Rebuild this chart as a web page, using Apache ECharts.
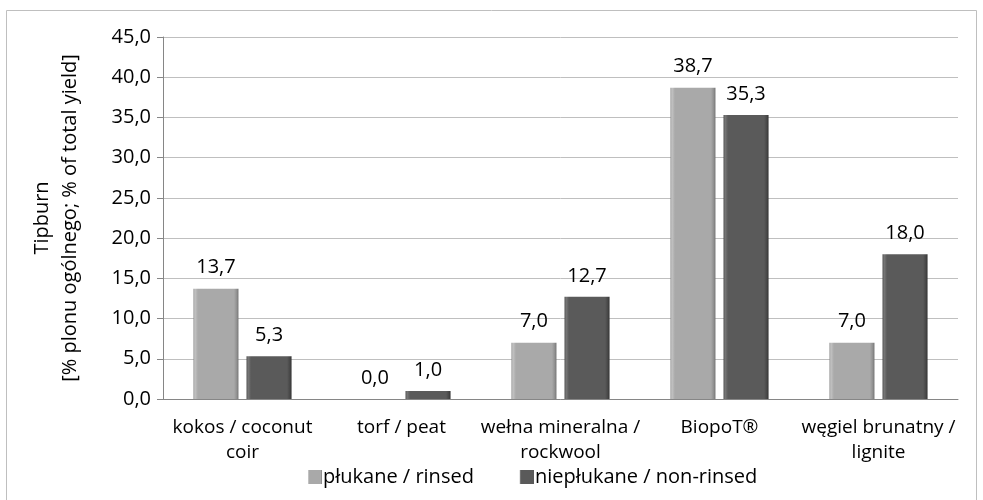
<!DOCTYPE html>
<html>
<head>
<meta charset="utf-8">
<script src="https://cdn.jsdelivr.net/npm/echarts@6/dist/echarts.min.js"></script>
<style>
html,body{margin:0;padding:0;background:#fff;}
#c{width:983px;height:500px;}
</style>
</head>
<body>
<div id="c"></div>
<script>
var categories = ['kokos / coconut\ncoir', 'torf / peat', 'wełna mineralna /\nrockwool', 'BiopoT®', 'węgiel brunatny /\nlignite'];
var rinsed = [13.7, 0.0, 7.0, 38.7, 7.0];
var nonRinsed = [5.3, 1.0, 12.7, 35.3, 18.0];
var seriesNames = ['płukane / rinsed', 'niepłukane / non-rinsed'];
var yTicks = {min: 0, max: 45, interval: 5};

var FONT = 'Open Sans';
var FS = 20;
function fmt(v){ return Number(v).toFixed(1).replace('.', ','); }
function grad(c){
  return new echarts.graphic.LinearGradient(0,0,1,0,[
    {offset:0,color:c[0]},{offset:0.03,color:c[1]},{offset:0.1,color:c[2]},
    {offset:0.9,color:c[2]},{offset:0.97,color:c[3]},{offset:1,color:c[4]}
  ]);
}
var lightCols = ['#8a8a8a','#c4c4c4','#a9a9a9','#8c8c8c','#6e6e6e'];
var darkCols = ['#3c3c3c','#7a7a7a','#5a5a5a','#444444','#2e2e2e'];
var chart = echarts.init(document.getElementById('c'));
chart.setOption({
  animation:false,
  textStyle:{fontFamily:FONT},
  graphic:[{type:'rect',shape:{x:6.5,y:10.5,width:970,height:495},style:{fill:'none',stroke:'#bfbfbf',lineWidth:1},silent:true}],
  grid:{left:163,right:25,top:37,bottom:101},
  legend:{
    left:303, top:462, itemWidth:14, itemHeight:14, itemGap:46,
    icon:'rect',
    textStyle:{fontFamily:FONT,fontSize:FS,color:'#000',padding:[0,0,0,-4]},
    data:seriesNames
  },
  xAxis:{
    type:'category', data:categories,
    axisLine:{lineStyle:{color:'#868686',width:1}},
    axisTick:{show:false},
    axisLabel:{color:'#000',fontFamily:FONT,fontSize:19,lineHeight:25,margin:16,interval:0}
  },
  yAxis:{
    type:'value', min:yTicks.min, max:yTicks.max, interval:yTicks.interval,
    name:'Tipburn\n[% plonu ogólnego; % of total yield]',
    nameLocation:'middle', nameGap:79,
    nameTextStyle:{color:'#000',fontFamily:FONT,fontSize:FS,lineHeight:28},
    axisLine:{show:true,lineStyle:{color:'#868686',width:1}},
    axisTick:{show:true,inside:false,length:6,lineStyle:{color:'#868686'}},
    splitLine:{lineStyle:{color:'#bfbfbf',width:1}},
    axisLabel:{color:'#000',fontFamily:FONT,fontSize:FS,margin:12,formatter:function(v){return fmt(v);}}
  },
  series:[
    {name:seriesNames[0],type:'bar',data:rinsed,barWidth:45,barGap:'18%',
     itemStyle:{color:grad(lightCols)},
     label:{show:true,position:'top',distance:11,color:'#000',fontFamily:FONT,fontSize:FS,formatter:function(p){return fmt(p.value);}}},
    {name:seriesNames[1],type:'bar',data:nonRinsed,barWidth:45,
     itemStyle:{color:grad(darkCols)},
     label:{show:true,position:'top',distance:11,color:'#000',fontFamily:FONT,fontSize:FS,formatter:function(p){return fmt(p.value);}}}
  ]
});
</script>
</body>
</html>
